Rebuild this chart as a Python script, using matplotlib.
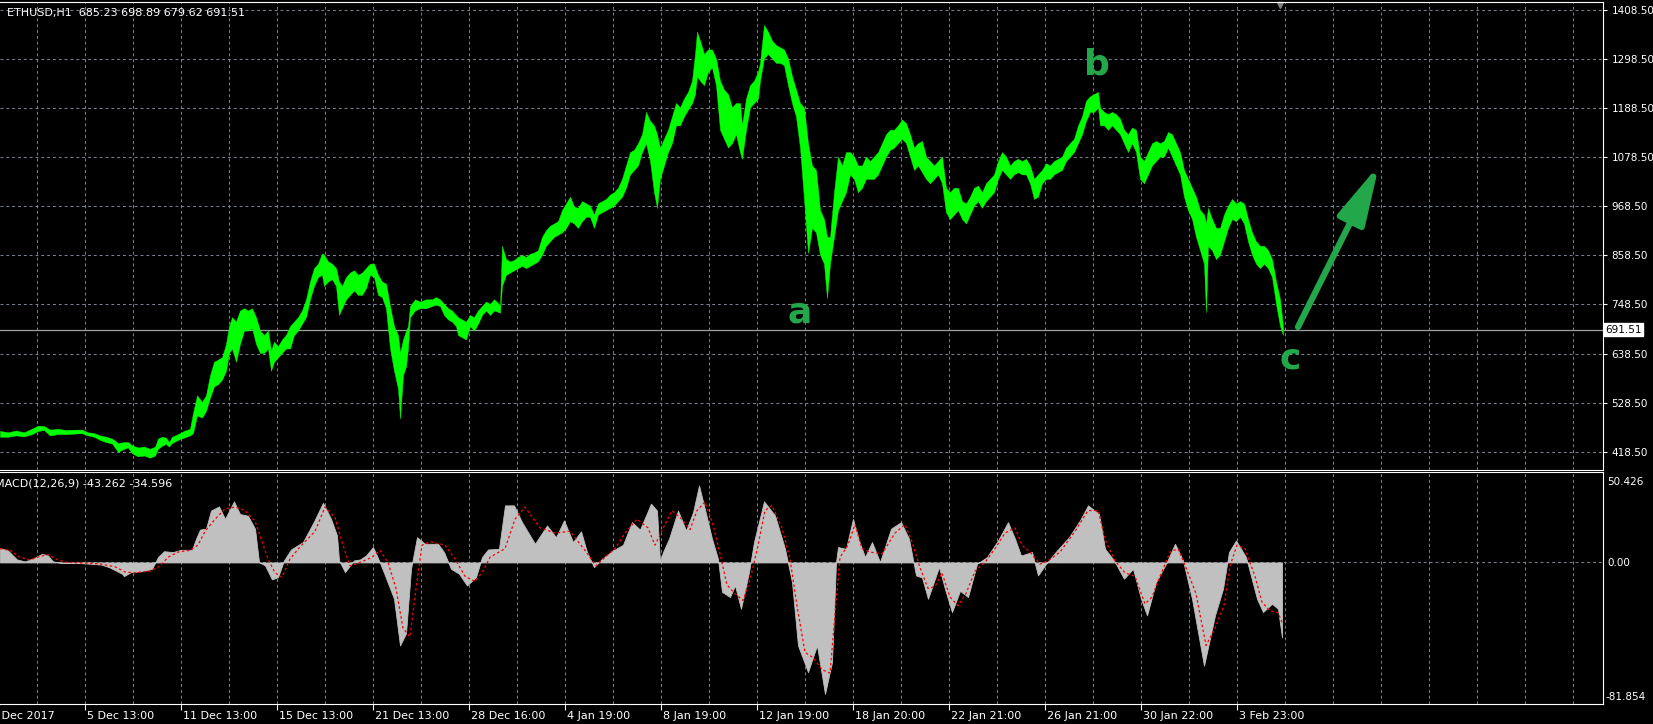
import matplotlib.pyplot as plt
from matplotlib.transforms import blended_transform_factory

W, H = 1653, 724

# ETHUSD H1 bars, high / low envelope (x = bar index, 1 bar per pixel)
bar_x = [0, 8, 16, 24, 32, 38, 44, 50, 58, 66, 74, 82, 88, 94, 100, 106, 112, 118, 124, 128,
         132, 138, 144, 150, 155, 158, 162, 166, 169, 172, 178, 184, 190, 193, 197, 202, 206, 210, 214, 218,
         222, 226, 229, 232, 236, 240, 244, 248, 252, 256, 260, 264, 268, 271, 274, 278, 282, 286, 290, 294,
         298, 302, 306, 310, 314, 318, 322, 324, 328, 332, 336, 339, 342, 346, 350, 354, 358, 362, 366, 370,
         374, 378, 382, 386, 390, 394, 398, 400, 403, 406, 408, 410, 415, 420, 426, 432, 436, 440, 444, 448,
         452, 456, 458, 462, 466, 470, 474, 478, 482, 486, 490, 494, 498, 500, 502, 506, 510, 514, 518, 522,
         526, 530, 534, 538, 542, 546, 550, 554, 558, 562, 566, 570, 574, 578, 582, 586, 590, 594, 598, 602,
         606, 610, 614, 618, 622, 626, 630, 634, 638, 642, 646, 650, 654, 657, 660, 664, 668, 672, 676, 680,
         684, 688, 692, 695, 697, 700, 704, 708, 712, 716, 720, 724, 728, 732, 736, 740, 742, 746, 750, 754,
         758, 760, 764, 768, 772, 776, 780, 784, 788, 792, 796, 800, 804, 808, 812, 816, 820, 824, 827, 830,
         834, 838, 842, 846, 850, 854, 858, 862, 866, 870, 874, 878, 882, 886, 890, 894, 898, 902, 906, 910,
         914, 918, 922, 926, 930, 934, 938, 942, 946, 950, 954, 958, 962, 966, 970, 974, 978, 982, 986, 990,
         994, 998, 1002, 1006, 1010, 1014, 1018, 1022, 1026, 1030, 1034, 1038, 1042, 1046, 1050, 1054, 1058, 1062, 1066, 1070,
         1074, 1078, 1082, 1086, 1090, 1094, 1098, 1100, 1104, 1108, 1112, 1116, 1120, 1124, 1128, 1132, 1136, 1140, 1144, 1148,
         1152, 1156, 1160, 1164, 1168, 1172, 1176, 1180, 1184, 1188, 1192, 1196, 1200, 1204, 1206, 1208, 1212, 1216, 1220, 1224,
         1228, 1232, 1236, 1240, 1244, 1248, 1252, 1256, 1260, 1264, 1268, 1272, 1276, 1280, 1283]
bar_hi = [465, 462, 466, 462, 470, 477, 476, 468, 470, 467, 468, 468, 462, 460, 455, 452, 448, 438, 440, 440,
          433, 428, 430, 425, 430, 448, 452, 450, 440, 452, 458, 465, 470, 505, 545, 530, 545, 590, 620, 625,
          630, 660, 700, 720, 710, 735, 740, 735, 740, 720, 690, 680, 690, 645, 665, 655, 670, 680, 700, 710,
          720, 735, 760, 800, 830, 840, 863, 860, 845, 840, 830, 800, 790, 810, 820, 825, 815, 820, 830, 840,
          840, 815, 800, 795, 745, 700, 680, 640, 670, 690, 700, 745, 760, 755, 760, 760, 765, 760, 750, 740,
          735, 725, 720, 715, 710, 725, 720, 735, 745, 755, 750, 760, 752, 745, 880, 850, 845, 848, 855, 860,
          855, 862, 865, 870, 900, 915, 925, 930, 935, 960, 975, 990, 968, 965, 980, 975, 970, 950, 975, 980,
          985, 995, 1000, 1010, 1030, 1060, 1090, 1095, 1110, 1130, 1180, 1160, 1150, 1130, 1100, 1120, 1140, 1170, 1200, 1190,
          1210, 1225, 1250, 1310, 1360, 1340, 1310, 1320, 1320, 1300, 1250, 1230, 1220, 1190, 1200, 1200, 1150, 1210, 1240, 1250,
          1270, 1290, 1375, 1360, 1340, 1330, 1325, 1320, 1300, 1260, 1230, 1200, 1190, 1110, 1060, 1050, 960, 940, 900, 900,
          1000, 1080, 1060, 1090, 1090, 1080, 1060, 1060, 1080, 1070, 1080, 1090, 1110, 1130, 1140, 1140, 1150, 1163, 1155, 1130,
          1100, 1110, 1115, 1080, 1070, 1060, 1070, 1080, 1010, 1000, 1010, 1010, 980, 975, 990, 1010, 1015, 1000, 1020, 1030,
          1040, 1070, 1090, 1080, 1060, 1070, 1075, 1070, 1075, 1060, 1030, 1040, 1050, 1065, 1060, 1070, 1075, 1080, 1100, 1110,
          1120, 1150, 1170, 1205, 1215, 1220, 1225, 1190, 1180, 1175, 1180, 1175, 1165, 1140, 1130, 1145, 1140, 1080, 1070, 1090,
          1110, 1115, 1110, 1115, 1135, 1130, 1110, 1090, 1050, 1030, 1010, 990, 960, 950, 930, 965, 940, 920, 920, 950,
          970, 985, 975, 980, 975, 940, 910, 890, 880, 880, 870, 850, 800, 760, 699]
bar_lo = [452, 452, 455, 453, 458, 465, 467, 455, 458, 458, 459, 460, 455, 452, 445, 440, 437, 418, 425, 428,
          415, 408, 410, 405, 410, 425, 432, 436, 430, 438, 445, 450, 455, 460, 500, 495, 510, 540, 565, 570,
          580, 600, 640, 650, 620, 660, 690, 690, 695, 660, 640, 640, 650, 600, 620, 630, 640, 650, 650, 680,
          690, 705, 720, 760, 790, 810, 815, 790, 800, 805, 790, 725, 740, 760, 770, 780, 770, 770, 785, 815,
          810, 770, 765, 740, 650, 600, 560, 493, 590, 610, 650, 720, 735, 740, 740, 745, 748, 745, 725, 715,
          710, 700, 680, 675, 670, 700, 690, 705, 725, 735, 725, 735, 732, 730, 790, 815, 820, 825, 830, 835,
          830, 835, 840, 845, 860, 880, 890, 900, 905, 910, 920, 935, 930, 920, 935, 945, 945, 920, 950, 955,
          960, 965, 970, 980, 990, 1010, 1040, 1050, 1060, 1090, 1110, 1070, 1000, 965, 1030, 1060, 1090, 1110, 1150, 1150,
          1170, 1185, 1200, 1220, 1260, 1250, 1240, 1270, 1280, 1240, 1140, 1120, 1100, 1110, 1130, 1090, 1075, 1140, 1190, 1200,
          1210, 1250, 1300, 1310, 1300, 1290, 1290, 1285, 1240, 1200, 1170, 1100, 985, 864, 920, 910, 860, 840, 763, 840,
          900, 960, 980, 1000, 1040, 1030, 1000, 1010, 1030, 1030, 1030, 1040, 1060, 1080, 1095, 1100, 1110, 1120, 1110, 1080,
          1050, 1060, 1045, 1030, 1020, 1030, 1040, 1020, 955, 940, 950, 960, 940, 930, 950, 970, 980, 965, 980, 990,
          1000, 1030, 1050, 1040, 1030, 1040, 1045, 1040, 1040, 1020, 985, 990, 1020, 1030, 1030, 1040, 1045, 1050, 1070, 1080,
          1090, 1110, 1130, 1160, 1180, 1180, 1190, 1150, 1150, 1140, 1150, 1140, 1130, 1110, 1090, 1110, 1090, 1030, 1020, 1040,
          1060, 1070, 1080, 1080, 1100, 1080, 1060, 1040, 990, 960, 940, 900, 870, 840, 731, 880, 870, 850, 860, 890,
          920, 940, 935, 945, 930, 890, 860, 840, 830, 840, 830, 810, 750, 700, 680]

# MACD(12,26,9) main histogram
macd_x = [0, 8, 17, 25, 34, 42, 48, 53, 63, 74, 84, 101, 109, 122, 124, 131, 143, 152, 158, 164,
          173, 181, 192, 196, 200, 206, 211, 219, 225, 234, 240, 248, 255, 259, 265, 272, 278, 284, 291, 303,
          314, 323, 331, 337, 339, 345, 354, 360, 366, 373, 379, 385, 394, 400, 406, 411, 417, 425, 438, 444,
          451, 459, 467, 476, 482, 488, 499, 505, 514, 522, 535, 547, 556, 564, 573, 581, 587, 594, 602, 613,
          623, 632, 640, 651, 657, 660, 663, 669, 678, 686, 693, 699, 705, 712, 718, 722, 730, 735, 741, 749,
          754, 764, 775, 785, 792, 798, 808, 817, 825, 832, 836, 838, 846, 853, 859, 865, 872, 880, 891, 901,
          909, 916, 922, 928, 939, 945, 952, 960, 968, 977, 987, 998, 1008, 1015, 1021, 1032, 1038, 1046, 1057, 1069,
          1080, 1088, 1099, 1105, 1114, 1124, 1133, 1141, 1147, 1156, 1166, 1175, 1183, 1192, 1204, 1215, 1223, 1229, 1236, 1246,
          1257, 1263, 1272, 1278, 1282]
macd_val = [8.3, 6.9, 1.7, 0.6, 2.5, 5.0, 4.0, 0.6, -0.3, -0.3, -0.5, -1.2, -2.7, -6.5, -7.9, -5.6, -5.0, -3.7, 3.1, 6.5,
            6.0, 7.3, 7.3, 13.7, 19.0, 19.5, 30.0, 32.4, 25.2, 35.3, 28.0, 27.0, 19.5, 0.2, -1.7, -9.8, -8.5, 1.2, 7.5, 11.8,
            23.7, 34.5, 25.2, 15.6, 1.2, -5.6, 1.2, 1.7, 4.0, 8.9, 1.2, -7.5, -21.0, -48.0, -41.0, -3.7, 14.6, 10.8, 10.8, 6.0,
            -3.7, -6.5, -13.3, -8.5, 3.1, 7.5, 7.9, 33.0, 33.0, 23.3, 10.8, 21.4, 14.6, 24.3, 11.8, 18.0, 6.0, -2.7, 2.1, 6.9,
            10.2, 23.3, 19.0, 34.0, 30.0, 0.6, 6.0, 13.7, 30.0, 18.5, 29.0, 44.5, 30.6, 13.7, 2.1, -17.0, -20.0, -13.3, -26.8, -5.6,
            11.8, 35.3, 27.2, 7.9, -11.4, -48.0, -63.4, -48.0, -76.0, -57.6, 0.0, 8.9, 7.9, 25.2, 12.7, 3.1, 11.8, 0.2, 19.5, 23.3,
            13.7, -7.5, -8.7, -21.0, -2.7, -15.4, -28.7, -16.4, -20.0, -0.8, 3.1, 12.7, 23.3, 13.7, 4.0, 6.0, -7.5, -0.8, 6.9, 14.6,
            24.3, 33.0, 28.1, 7.9, 1.2, -9.4, -3.7, -21.0, -30.6, -11.4, -0.8, 10.8, 1.2, -21.0, -59.7, -30.6, -15.2, 6.0, 12.7, 3.1,
            -21.0, -28.7, -23.9, -26.8, -43.262]

# MACD signal line
sig_x = [0, 10, 20, 30, 40, 48, 56, 65, 80, 100, 115, 125, 135, 150, 160, 168, 178, 190, 198, 205,
         215, 225, 235, 245, 255, 262, 268, 275, 282, 290, 300, 315, 325, 335, 343, 350, 360, 372, 380, 388,
         396, 403, 410, 416, 422, 430, 445, 455, 465, 475, 483, 490, 505, 515, 525, 540, 555, 570, 585, 596,
         605, 615, 625, 637, 648, 655, 665, 672, 682, 690, 697, 705, 713, 720, 727, 735, 743, 750, 757, 765,
         772, 782, 790, 797, 805, 813, 822, 830, 835, 840, 848, 855, 862, 870, 882, 895, 905, 912, 920, 928,
         935, 942, 950, 958, 966, 975, 985, 995, 1005, 1015, 1022, 1030, 1040, 1048, 1060, 1075, 1088, 1098, 1106, 1115,
         1125, 1135, 1145, 1152, 1160, 1170, 1178, 1186, 1196, 1206, 1215, 1224, 1230, 1237, 1245, 1255, 1262, 1270, 1278, 1282]
sig_val = [8, 7, 3, 1.5, 3.5, 4.5, 2, 0.2, -0.3, -0.8, -2.5, -5.5, -6, -5, -2, 3, 6, 7, 10, 18,
           25, 31, 32, 30, 24, 12, 2, -6, -8.5, 2, 9, 18, 32, 26, 10, -2, 0, 3, 7, 0,
           -15, -38, -43, -15, 10, 12, 10, 2, -8, -11, -5, 3, 8, 25, 32, 20, 17, 18, 7, -2,
           3, 8, 17, 25, 20, 10, 22, 30, 25, 19, 30, 35, 22, 5, -13, -18, -22, -10, 7, 30,
           33, 20, 2, -25, -52, -55, -62, -64, -30, 3, 10, 22, 8, 6, 5, 17, 22, 12, -3, -15,
           -14, -6, -20, -25, -18, -5, 0, 8, 17, 20, 10, 6, -1, 1, 6, 18, 30, 30, 12, 1,
           -6, -8, -24, -20, -8, 6, 8, -3, -18, -48, -38, -25, -2, 10, 8, -8, -23, -28, -29, -34.596]

price_ticks = [1408.5, 1298.5, 1188.5, 1078.5, 968.5, 858.5, 748.5, 638.5, 528.5, 418.5]
date_pos = [-11, 85, 181, 277, 373, 469, 565, 661, 757, 853, 949, 1045, 1141, 1237]
date_labels = ["1 Dec 2017", "5 Dec 13:00", "11 Dec 13:00", "15 Dec 13:00", "21 Dec 13:00",
               "28 Dec 16:00", "4 Jan 19:00", "8 Jan 19:00", "12 Jan 19:00", "18 Jan 20:00",
               "22 Jan 21:00", "26 Jan 21:00", "30 Jan 22:00", "3 Feb 23:00"]
last_close = 691.51

bg = "black"
grid_c = "#7b8594"
dash = (0, (3, 3))
wave_green = "#22a84b"


def fx(px):
    return px / W


def fy(py):
    return 1 - py / H


fig = plt.figure(figsize=(W / 100, H / 100), dpi=100, facecolor=bg)
ax = fig.add_axes([0, fy(470), fx(1603), (470 - 2) / H], facecolor=bg)
ax2 = fig.add_axes([0, fy(704), fx(1603), (704 - 472) / H], facecolor=bg)

grid_x = list(range(37, 1603, 48))

# ---- price panel
ax.set_xlim(0, 1603)
ax.set_ylim(377.5, 1426.4)
for gx in grid_x:
    ax.axvline(gx, color=grid_c, lw=0.7, ls=dash, zorder=0)
for gy in price_ticks:
    ax.axhline(gy, color=grid_c, lw=0.7, ls=dash, zorder=0)

ax.fill_between(bar_x, bar_lo, bar_hi, color="#00ff00", edgecolor="#00ff00", lw=0.3, zorder=3)
ax.axhline(last_close, color="#a0a0a0", lw=0.9, zorder=2)

ax.yaxis.tick_right()
ax.set_yticks(price_ticks)
ax.set_yticklabels([f"{v:.2f}" for v in price_ticks])
ax.tick_params(axis="y", colors="white", labelsize=7.5, length=3, pad=3)
ax.set_xticks([])

trans_r = blended_transform_factory(ax.transAxes, ax.transData)
ax.text(1.0015, last_close, f"{last_close:.2f}", transform=trans_r, fontsize=7.5, color="black",
        va="center", ha="left",
        bbox=dict(boxstyle="square,pad=0.15", facecolor="white", edgecolor="white"))

# chart shift marker at the top
ax.plot([1280], [0.993], marker="v", color="#808080", ms=5,
        transform=blended_transform_factory(ax.transData, ax.transAxes), clip_on=False)

# wave labels and arrow
ax.text(800, 709, "a", color=wave_green, fontsize=26, fontweight="bold", ha="center", va="baseline")
ax.text(1097, 1265, "b", color=wave_green, fontsize=26, fontweight="bold", ha="center", va="baseline")
ax.text(1290, 604, "c", color=wave_green, fontsize=26, fontweight="bold", ha="center", va="baseline")
ax.annotate("", xy=(1379, 1061), xytext=(1298, 698),
            arrowprops=dict(arrowstyle="-|>,head_length=0.9,head_width=0.22", color=wave_green,
                            lw=4.5, mutation_scale=40, shrinkA=0, shrinkB=0))

for side in ["top", "right", "bottom"]:
    ax.spines[side].set_color("white")
ax.spines["left"].set_visible(False)

# ---- MACD panel
ax2.set_xlim(0, 1603)
ax2.set_ylim(-81.854, 52.3)
for gx in grid_x:
    ax2.axvline(gx, color=grid_c, lw=0.7, ls=dash, zorder=0)
ax2.axhline(0, color=grid_c, lw=0.7, ls=dash, zorder=0)
ax2.fill_between(macd_x, 0, macd_val, color="#c0c0c0", lw=0.6, zorder=2)
ax2.plot(sig_x, sig_val, color="red", lw=0.9, ls=(0, (2, 2)), zorder=3)

ax2.set_yticks([])
ax2.set_xticks(date_pos[1:])
ax2.set_xticklabels([])
ax2.tick_params(axis="x", colors="white", length=4)
for side in ["top", "right", "bottom"]:
    ax2.spines[side].set_color("white")
ax2.spines["left"].set_visible(False)

trans_d = blended_transform_factory(ax2.transData, fig.transFigure)
for pos, lab in zip(date_pos, date_labels):
    ax2.text(pos + 2, fy(716), lab, transform=trans_d, color="white", fontsize=8,
             ha="left", va="center", clip_on=False)

fig.text(fx(1607), fy(482), "50.426", color="white", fontsize=7.5, va="center")
fig.text(fx(1607), fy(563), "0.00", color="white", fontsize=7.5, va="center")
fig.text(fx(1606), fy(697), "-81.854", color="white", fontsize=7.5, va="center")

fig.text(fx(7), fy(13), "ETHUSD,H1  685.23 698.89 679.62 691.51", color="white", fontsize=8, va="center")
fig.text(fx(-5), fy(484), "MACD(12,26,9) -43.262 -34.596", color="white", fontsize=8, va="center")

fig.savefig("out.png", dpi=100, facecolor=bg)
